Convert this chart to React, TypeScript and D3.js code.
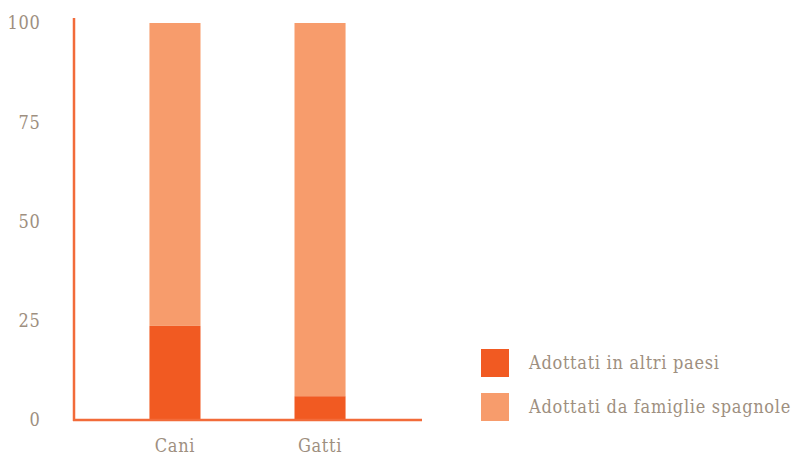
import React from "react";
import * as d3 from "d3";

const categories = ["Cani", "Gatti"];
const altriPaesi = [23.7, 6.0];
const famiglieSpagnole = [76.3, 94.0];
const yTicks = [0, 25, 50, 75, 100];
const seriesNames = ["Adottati in altri paesi", "Adottati da famiglie spagnole"];
const colors = ["#f15a22", "#f79c6c"];

const W = 795;
const H = 455;
const textColor = "#9e8f80";
const axisColor = "#f26b3a";
const font = "'DejaVu Serif Condensed', 'DejaVu Serif', serif";
const fs = 18;
const ls = 0.7;

export default function App() {
  const x = d3
    .scaleBand<string>()
    .domain(categories)
    .range([73, 422])
    .paddingInner(0.648)
    .paddingOuter(0.527);
  const y = d3.scaleLinear().domain([0, 100]).range([420, 23]);

  const stacked = d3
    .stack<{ cat: string; a: number; b: number }>()
    .keys(["a", "b"])(
    categories.map((c, i) => ({ cat: c, a: altriPaesi[i], b: famiglieSpagnole[i] }))
  );

  return (
    <svg width={W} height={H} style={{ position: "absolute", left: 0, top: 0 }}>
      {stacked.map((layer, li) =>
        layer.map((d, i) => (
          <rect
            key={`${li}-${i}`}
            x={x(categories[i])}
            y={y(d[1])}
            width={x.bandwidth()}
            height={y(d[0]) - y(d[1])}
            fill={colors[li]}
          />
        ))
      )}
      <line x1={74} x2={74} y1={18} y2={421} stroke={axisColor} strokeWidth={2.5} />
      <line x1={73} x2={422} y1={420} y2={420} stroke={axisColor} strokeWidth={2.5} />
      {yTicks.map((t) => (
        <text
          key={t}
          x={40.5}
          y={y(t)}
          dy="0.35em"
          textAnchor="end"
          fill={textColor}
          fontFamily={font}
          fontSize={fs}
          letterSpacing={ls}
        >
          {t}
        </text>
      ))}
      {categories.map((c) => (
        <text
          key={c}
          x={(x(c) ?? 0) + x.bandwidth() / 2}
          y={446}
          dy="0.35em"
          textAnchor="middle"
          fill={textColor}
          fontFamily={font}
          fontSize={fs}
          letterSpacing={ls}
        >
          {c}
        </text>
      ))}
      {seriesNames.map((s, i) => (
        <g key={s}>
          <rect x={481} y={349 + i * 44} width={28} height={28} fill={colors[i]} />
          <text
            x={529}
            y={363 + i * 44}
            dy="0.35em"
            fill={textColor}
            fontFamily={font}
            fontSize={fs}
            letterSpacing={ls}
          >
            {s}
          </text>
        </g>
      ))}
    </svg>
  );
}
